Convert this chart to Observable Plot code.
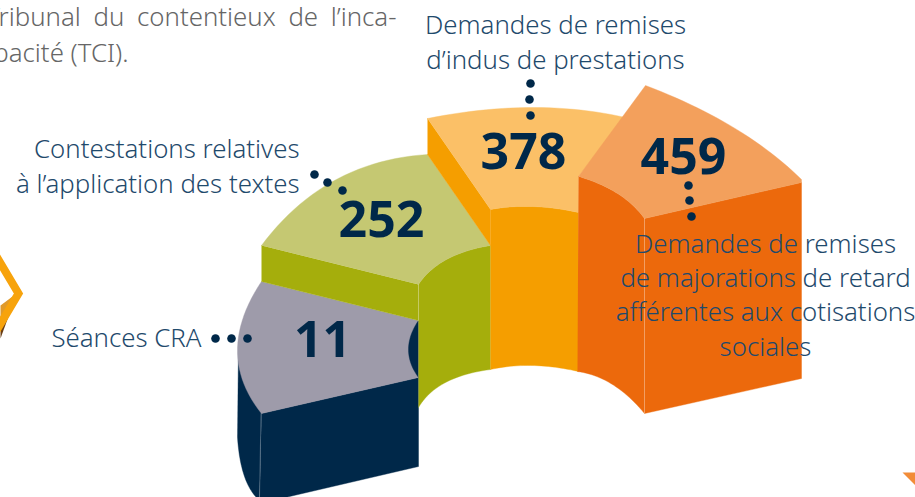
<!DOCTYPE html>
<html lang="fr">
<head>
<meta charset="utf-8">
<script src="https://cdn.jsdelivr.net/npm/d3@7"></script>
<script src="https://cdn.jsdelivr.net/npm/@observablehq/plot@0.6"></script>
<style>
html,body{margin:0;padding:0;background:#fff;overflow:hidden;width:915px;height:497px}
svg{display:block}
</style>
</head>
<body>
<div id="chart"></div>
<script>
// Values and their captions
const values = ["11", "252", "378", "459"];
const captions = [
  ["Séances CRA"],
  ["Contestations relatives", "à l’application des textes"],
  ["Demandes de remises", "d’indus de prestations"],
  ["Demandes de remises", "de majorations de retard", "afférentes aux cotisations", "sociales"]
];
const introLines = ["Tribunal du contentieux de l’inca-", "pacité (TCI)."];

// Palette
const navy = "#002849", greyTop = "#9e9baa", greenTop = "#c5c872", green = "#a5ae0c",
      yellowTop = "#fbc067", yellow = "#f59e00", orangeTop = "#f3a05c", orange = "#ec690c";
const labelInk = "#1f4a6c";

// Outline tracing of the pictured 3D ring: [x, y] corner, [x, y, 1] = point an arc passes through
const faces = [
  [navy, [[238,345],[237,437],[244,476,1],[259,500],[261,413]]],
  [navy, [[261,413],[418,377],[418,466],[259,503]]],
  [greyTop, [[261,281],[237,350,1],[261,413],[418,377],[418,320]]],
  [navy, [[418,320],[408,349,1],[418,377]]],
  [green, [[261,245],[418,284],[418,320],[261,281]]],
  [green, [[418,284],[446,259,1],[490,245],[490,369],[445,382,1],[418,407]]],
  [greenTop, [[261,245],[334,180,1],[427,154],[490,245],[446,259,1],[418,284]]],
  [yellow, [[427,118],[490,209],[490,245],[427,154]]],
  [yellow, [[490,209],[532,206,1],[578,212],[578,371],[532,365,1],[490,369]]],
  [yellowTop, [[427,118],[530,107,1],[625,117],[578,176],[578,212],[532,206,1],[490,209]]],
  [orange, [[578,176],[617,193,1],[644,218],[644,413],[612,384,1],[577,371]]],
  [orange, [[644,218],[801,182],[801,378],[644,413]]],
  [orangeTop, [[578,176],[645,85],[733,127,1],[801,179],[801,182],[644,218],[617,193,1]]]
];
const seams = [[[260.5,413],[259,497]], [[418,284],[418,320]], [[644,218],[644,413]]];
const dotChains = [
  [[215,338],[231,338],[247,338]],
  [[314,174],[327,182],[342,190]],
  [[530,83],[529,99],[530,115]],
  [[688,185],[689,200],[691,216]]
];
const valueSpots = [[322,340],[381,220],[523,152],[683,157]];
const captionSpots = [
  [[201,338,"end"]],
  [[299,149,"end"],[299,184,"end"]],
  [[555,25,"middle"],[555,60,"middle"]],
  [[765,244,"middle"],[765,278,"middle"],[765,312,"middle"],[765,347,"middle"]]
];
const introSpots = [[396,17,"end"],[128,53,"end"]];
const chevron = [[-4,256],[18,293],[-4,330]];
const photoGold = [[0,305],[12,296],[8,316],[0,316]];
const photoDark = [[0,316],[8,316],[0,338]];
const corner = [[902,472],[915,472],[915,485]];

// Samples a face outline, bending through the arc points
function trace(outline) {
  const out = [], n = outline.length;
  for (let i = 0; i < n; i++) {
    const p = outline[i];
    if (p[2]) {
      const a = outline[(i-1+n)%n], b = outline[(i+1)%n];
      const cx = 2*p[0] - (a[0]+b[0])/2, cy = 2*p[1] - (a[1]+b[1])/2;
      for (let t = 0.04; t < 1; t += 0.04) {
        out.push([(1-t)*(1-t)*a[0] + 2*t*(1-t)*cx + t*t*b[0],
                  (1-t)*(1-t)*a[1] + 2*t*(1-t)*cy + t*t*b[1]]);
      }
    } else out.push(p);
  }
  return out;
}

const X = d => d[0], Y = d => d[1];
const bodyFont = "'Noto Sans','Open Sans',sans-serif";
const valueRows = values.map((v,i) => ({v, x: valueSpots[i][0], y: valueSpots[i][1]}));
const captionRows = captions.flatMap((lines,i) => lines.map((t,j) => ({
  t, x: captionSpots[i][j][0], y: captionSpots[i][j][1], a: captionSpots[i][j][2]
})));
const introRows = introLines.map((t,i) => ({t, x: introSpots[i][0], y: introSpots[i][1], a: introSpots[i][2]}));

const textMark = (rows, anchor, fill) => Plot.text(rows.filter(r => r.a === anchor), {
  x: "x", y: "y", text: "t", textAnchor: anchor, fill,
  fontFamily: bodyFont, fontWeight: 300, fontSize: 25.8
});

const chart = Plot.plot({
  width: 915, height: 497,
  margin: 0,
  x: {domain: [0, 915], axis: null},
  y: {domain: [497, 0], axis: null},
  style: {background: "#fff", overflow: "hidden"},
  marks: [
    Plot.line(photoGold, {x: X, y: Y, fill: "#e09a2a", stroke: "none"}),
    Plot.line(photoDark, {x: X, y: Y, fill: "#6b3d12", stroke: "none"}),
    Plot.line(chevron, {x: X, y: Y, stroke: "#f7a30c", strokeWidth: 8, strokeLinejoin: "miter", strokeMiterlimit: 4}),
    ...faces.map(([color, outline]) => Plot.line(trace(outline), {
      x: X, y: Y, fill: color, stroke: color, strokeWidth: 0.4
    })),
    ...seams.map(s => Plot.line(s, {x: X, y: Y, stroke: "#fff", strokeOpacity: 0.35, strokeWidth: 0.7})),
    Plot.line(corner, {x: X, y: Y, fill: "#f28c38", stroke: "none"}),
    Plot.dot(dotChains.flat(), {x: X, y: Y, r: 4.3, fill: navy, stroke: "none"}),
    Plot.text(valueRows, {
      x: "x", y: "y", text: "v", fill: navy, fontFamily: bodyFont, fontWeight: 700, fontSize: 50
    }),
    textMark(captionRows, "end", labelInk),
    textMark(captionRows, "middle", labelInk),
    textMark(introRows, "end", "#666666")
  ]
});
// The reference's intro paragraph is justified: its words are spread out
chart.querySelectorAll("text").forEach(t => {
  if (t.textContent === introLines[0]) t.style.wordSpacing = "6px";
});
document.getElementById("chart").appendChild(chart);
</script>
</body>
</html>
